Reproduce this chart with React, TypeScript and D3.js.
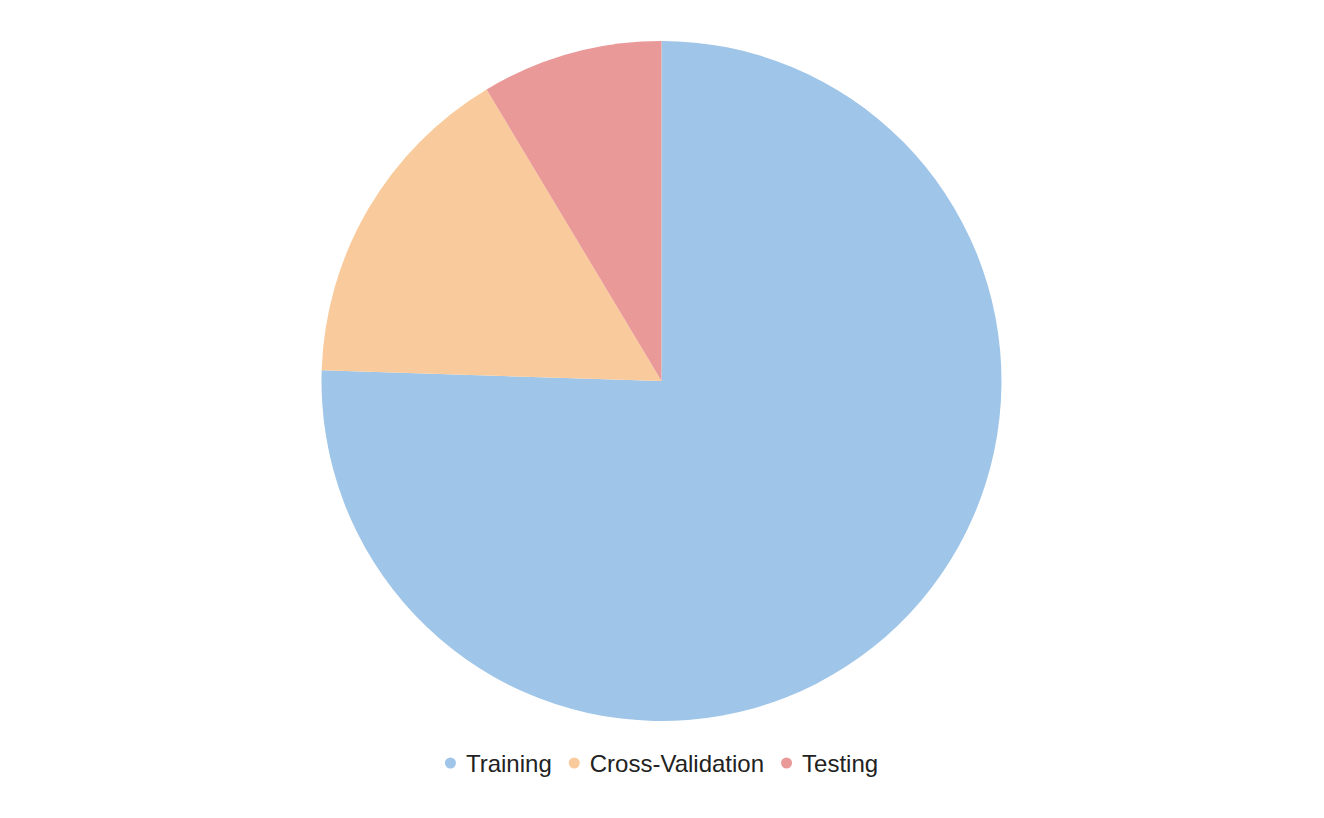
import * as d3 from 'd3';
import React, { useEffect, useRef } from 'react';

const categories = ['Training', 'Cross-Validation', 'Testing'];
const shares = [75.5, 15.9, 8.6];
const colors = ['#9fc5e8', '#f9cb9c', '#ea9999'];

const W = 1324, H = 818;

const App = () => {
    const ref = useRef<SVGSVGElement>(null);

    useEffect(() => {
        const svg = d3.select(ref.current);
        svg.selectAll('*').remove();

        const cx = 661.5, cy = 381, r = 340;

        const pie = d3.pie<number>().sort(null).value(d => d);
        const arc = d3.arc<d3.PieArcDatum<number>>().innerRadius(0).outerRadius(r);

        const g = svg.append('g').attr('transform', `translate(${cx},${cy})`);
        g.selectAll('path')
            .data(pie(shares))
            .join('path')
            .attr('d', arc)
            .attr('fill', (d, i) => colors[i]);

        // legend, measured then centred under the pie
        const legend = svg.append('g');
        let x = 0;
        categories.forEach((c, i) => {
            const item = legend.append('g').attr('transform', `translate(${x},0)`);
            item.append('circle').attr('cx', 5.5).attr('cy', 0).attr('r', 5.5).attr('fill', colors[i]);
            const t = item.append('text')
                .attr('x', 21)
                .attr('y', 8.5)
                .attr('font-family', 'Arial, "Liberation Sans", sans-serif')
                .attr('font-size', 24)
                .attr('fill', '#222222')
                .text(c);
            const w = (t.node() as SVGTextElement).getComputedTextLength();
            x += 21 + w + 17;
        });
        const total = x - 17;
        legend.attr('transform', `translate(${cx - total / 2},763)`);
    }, []);

    return <svg ref={ref} width={W} height={H}
        style={{ position: 'absolute', left: 0, top: 0, display: 'block', background: '#fff' }} />;
}
export default App;
